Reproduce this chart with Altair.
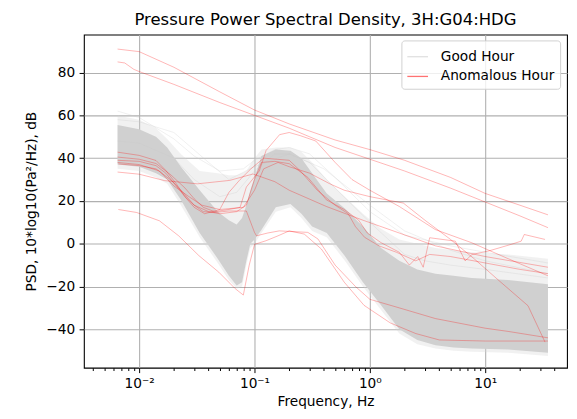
import altair as alt
import pandas as pd

TITLE = "Pressure Power Spectral Density, 3H:G04:HDG"
X_TITLE = "Frequency, Hz"
Y_TITLE = "PSD, 10*log10(Pa²/Hz), dB"
LEGEND_LABELS = ["Good Hour", "Anomalous Hour"]
Y_TICKS = [-40, -20, 0, 20, 40, 60, 80]
X_TICKS = [m * d for d in [0.001, 0.01, 0.1, 1, 10] for m in range(1, 10)]
X_TICKS = [v for v in X_TICKS if 0.0035 < v < 50]

# envelope of the many "good hour" curves
band_freq = [0.0065, 0.01, 0.014, 0.0175, 0.023, 0.0335, 0.048, 0.06, 0.07, 0.078, 0.085, 0.092, 0.1,
             0.115, 0.153, 0.205, 0.255, 0.316, 0.423, 0.607, 0.871, 1.25, 1.8, 2.58, 3.71, 5.32, 7.65, 15.8, 35]
core_hi = [55.5, 53.5, 50, 45, 36, 25, 15, 11, 9, 12, 18, 25, 31,
           41, 44, 43.5, 40, 33, 23.5, 16.5, 8, -2, -8, -12, -14, -15, -16, -17, -19]
core_lo = [37, 36, 33, 30, 20.5, 5, -7, -15, -19.5, -18, -8, 0, 2,
           6.5, 17, 18.6, 14, 8, 5, -5.7, -18, -28.8, -40, -45, -47.5, -48.5, -49, -49.5, -51]
spread_hi = [60, 58, 54, 49, 42, 34, 33, 32, 32, 33, 34, 37, 40,
             44, 45, 45, 43, 38, 30, 22, 14, 7, 2, 0, -2, -3, -4, -5, -7]
spread_lo = [35, 34, 31, 28, 18, 3, -9, -17, -21, -20, -10, -2, 0,
             5, 15, 17, 12, 6, 3, -8, -20, -31, -42, -47, -49, -50, -50.5, -51, -52.5]

# a few individual good-hour curves
g1_freq = [0.0065, 0.01, 0.02, 0.03, 0.05, 0.08, 0.1, 0.15, 0.2, 0.3, 0.5, 1, 2, 5, 10, 35]
g1_psd = [62, 59, 49, 41, 34, 35, 39, 44, 45, 42, 31, 15, 4, -1, -4, -9]
g2_freq = [0.0065, 0.01, 0.02, 0.03, 0.05, 0.07, 0.1, 0.15, 0.2, 0.3, 0.5, 1, 2, 3, 5, 10, 35]
g2_psd = [48, 47, 40, 30, 22, 24, 34, 42, 42, 38, 26, 10, -5, -8, -10, -12, -16]
g3_freq = [0.0065, 0.01, 0.02, 0.04, 0.06, 0.1, 0.2, 0.4, 1, 2, 5, 10, 35]
g3_psd = [58, 57, 52, 38, 30, 36, 42, 35, 18, 6, -3, -8, -14]

# anomalous-hour curves
a1_freq = [0.0065, 0.01, 0.02, 0.05, 0.1, 0.2, 0.5, 1, 2, 5, 10, 20, 35]
a1_psd = [91, 89.8, 82.5, 71, 62.5, 56, 48.5, 44, 39, 31, 23.5, 18, 13.5]
a2_freq = [0.0065, 0.0075, 0.009, 0.01, 0.02, 0.05, 0.1, 0.2, 0.3, 0.5, 1, 2, 5, 10, 20, 35]
a2_psd = [85, 84.5, 81.5, 80.5, 74.5, 66, 60, 54, 50, 45, 39.5, 34, 26, 19.5, 13, 7.5]
a3_freq = [0.0066, 0.0095, 0.015, 0.022, 0.033, 0.049, 0.068, 0.08, 0.09, 0.1, 0.126, 0.16, 0.2, 0.27,
           0.38, 0.6, 0.89, 1.5, 2.5, 4, 10, 35]
a3_psd = [16, 14.6, 10.7, 3.7, -5.6, -13.3, -21, -24, -10, -0.3, 1.4, 3.7, 6, 4.5,
          -2.5, -18, -28.8, -37, -42, -45, -45.5, -45.5]
a4_freq = [0.0065, 0.01, 0.014, 0.017, 0.021, 0.025, 0.03, 0.036, 0.045, 0.06, 0.075, 0.085, 0.1, 0.104,
           0.13, 0.164, 0.29, 0.355, 0.5, 0.75, 1, 1.8, 3.7, 10, 15.8, 35]
a4_psd = [42.8, 41.3, 38.9, 34.3, 28, 22, 18, 15, 14.6, 15.3, 15.3, 15.3, 5.3, 3.7,
          5, 6, 5.3, 2.2, -10, -20, -26, -30, -35, -39.5, -41, -44]
a5_freq = [0.0065, 0.01, 0.014, 0.019, 0.025, 0.03, 0.036, 0.045, 0.06, 0.075, 0.085, 0.11, 0.126, 0.165,
           0.2, 0.25, 0.34, 0.5, 0.7, 1, 1.8, 3.7, 7.6, 15.8, 35]
a5_psd = [40.5, 39.5, 37.5, 32, 26, 21, 17, 15, 16, 17, 26.5, 34, 43.6, 51,
          52, 50.5, 48, 38, 30, 25, 17.4, 6.6, 0.5, -7, -15]
a6_freq = [0.0066, 0.01, 0.014, 0.019, 0.024, 0.03, 0.04, 0.05, 0.07, 0.085, 0.1, 0.115, 0.15, 0.2, 0.29,
           0.42, 0.6, 0.8, 0.95, 1.25, 1.8, 2.2, 2.6, 2.9, 3.3, 5.5, 6.7, 7.7, 10.7, 16.8, 20.5, 21.8, 33]
a6_psd = [37.3, 36.5, 35, 29.6, 24, 18, 15, 14, 15, 18, 30, 38, 38.5, 37.4, 31,
          20.5, 16, 11, 5, 0.5, -4, -10, -6, -11, 2.8, 1.2, -8, -5, -3.4, -0.3, 1.2, 4.3, 2]
a7_freq = [0.0065, 0.01, 0.0166, 0.032, 0.061, 0.097, 0.15, 0.2, 0.42, 0.87, 1.8, 3.7, 10, 35]
a7_psd = [33.5, 32.5, 29.5, 28, 29.6, 32.6, 29, 25, 17.4, 11, 5, -1, -6, -11]
a8_freq = [0.0065, 0.01, 0.014, 0.017, 0.021, 0.025, 0.03, 0.037, 0.05, 0.06, 0.075, 0.093, 0.12, 0.2,
           0.25, 0.35, 0.5, 0.65, 0.75, 0.9, 1.2, 1.7, 2.5, 3.3, 5, 10, 20, 35]
a8_psd = [39, 38.5, 36.5, 33, 27, 21.9, 17, 14, 16, 24, 30, 35, 40, 39,
          34, 25, 18, 14, 8, 3, -1, -4, -8, -5, -6, -9, -12, -14]
a9_freq = [0.0065, 0.01, 0.015, 0.02, 0.027, 0.035, 0.05, 0.08, 0.1, 0.12, 0.16, 0.2, 0.3, 0.45, 0.6,
           1, 1.95, 3, 5, 8, 13, 23.5, 33]
a9_psd = [38, 37, 34, 27, 22, 18, 16, 17, 25, 35, 38, 36, 33, 28, 25,
          22, 19, 11, 2, -7, -17, -29, -46]

good = {"g1": (g1_freq, g1_psd), "g2": (g2_freq, g2_psd), "g3": (g3_freq, g3_psd)}
anom = {"a1": (a1_freq, a1_psd), "a2": (a2_freq, a2_psd), "a3": (a3_freq, a3_psd),
        "a4": (a4_freq, a4_psd), "a5": (a5_freq, a5_psd), "a6": (a6_freq, a6_psd),
        "a7": (a7_freq, a7_psd), "a8": (a8_freq, a8_psd), "a9": (a9_freq, a9_psd)}


def to_df(curves, kind):
    rows = []
    for name, (fs, ps) in curves.items():
        for f, p in zip(fs, ps):
            rows.append({"freq": f, "psd": p, "series": name, "kind": kind})
    return pd.DataFrame(rows)


df_band = pd.DataFrame({"freq": band_freq, "core_hi": core_hi, "core_lo": core_lo,
                        "spread_hi": spread_hi, "spread_lo": spread_lo})
df_good = to_df(good, LEGEND_LABELS[0])
df_anom = to_df(anom, LEGEND_LABELS[1])

FONT = "DejaVu Sans"
FS = 13.9
DEC = "abs(log(datum.value)/LN10 - round(log(datum.value)/LN10)) < 0.001"
E = "round(log(datum.value)/LN10)"
LABEL_EXPR = (f"!({DEC}) ? '' : {E} == -2 ? '10⁻²' : {E} == -1 ? '10⁻¹' : "
              f"{E} == 0 ? '10⁰' : {E} == 1 ? '10¹' : ''")

x_scale = alt.Scale(type="log", domain=[0.00332, 51.2], nice=False)
y_scale = alt.Scale(domain=[-58, 97.8], nice=False, zero=False)

x_axis = alt.Axis(values=X_TICKS, labelExpr=LABEL_EXPR, title=X_TITLE, grid=True,
                  gridColor="#b0b0b0", gridWidth=1.1,
                  gridOpacity={"condition": {"test": DEC, "value": 1}, "value": 0},
                  tickSize={"condition": {"test": DEC, "value": 4.9}, "value": 2.8},
                  tickColor="black", tickWidth=1, domain=False,
                  labelFont=FONT, labelFontSize=FS, labelColor="black", labelPadding=4.5,
                  labelOverlap=False, labelFlush=False,
                  titleFont=FONT, titleFontSize=FS, titleFontWeight="normal", titleColor="black",
                  titlePadding=4)
y_axis = alt.Axis(values=Y_TICKS, title=Y_TITLE, grid=True, gridColor="#b0b0b0", gridWidth=1.1,
                  tickSize=4.9, tickColor="black", tickWidth=1, domain=False,
                  labelFont=FONT, labelFontSize=FS, labelColor="black", labelPadding=4.5,
                  titleFont=FONT, titleFontSize=FS, titleFontWeight="normal", titleColor="black",
                  titlePadding=7)

x_enc = alt.X("freq:Q", scale=x_scale, axis=x_axis)

color_enc = alt.Color("kind:N", scale=alt.Scale(domain=LEGEND_LABELS, range=["#c8c8c8", "#ff0000"]),
                      legend=alt.Legend(title=None, orient="none", legendX=322, legendY=6,
                                        symbolType="stroke", symbolSize=440, symbolStrokeWidth=1.3,
                                        symbolOpacity=0.55,
                                        labelFont=FONT, labelFontSize=FS, labelColor="black",
                                        labelOffset=12, rowPadding=1, padding=5,
                                        fillColor="rgba(255,255,255,0.8)", strokeColor="#d0d0d0",
                                        cornerRadius=3))

spread = alt.Chart(df_band).mark_area(color="#d3d3d3", opacity=0.32).encode(
    x=x_enc, y=alt.Y("spread_lo:Q", scale=y_scale, axis=y_axis), y2="spread_hi:Q")
core = alt.Chart(df_band).mark_area(color="#d0d0d0", opacity=1).encode(
    x=x_enc, y=alt.Y("core_lo:Q", scale=y_scale, axis=y_axis), y2="core_hi:Q")
good_lines = alt.Chart(df_good).mark_line(strokeWidth=0.8, opacity=0.35).encode(
    x=x_enc, y=alt.Y("psd:Q", scale=y_scale, axis=y_axis), detail="series:N", color=color_enc)
anom_lines = alt.Chart(df_anom).mark_line(strokeWidth=0.9, opacity=0.32).encode(
    x=x_enc, y=alt.Y("psd:Q", scale=y_scale, axis=y_axis), detail="series:N", color=color_enc)

chart = alt.layer(spread, core, good_lines, anom_lines).properties(
    width=490, height=338,
    autosize=alt.AutoSizeParams(type="none"),
    padding={"left": 77, "top": 24, "right": 2, "bottom": 45},
    title=alt.TitleParams(TITLE, font=FONT, fontSize=16.7, fontWeight="normal", color="black",
                          anchor="middle", offset=6),
).configure_view(stroke="black", strokeWidth=1.1)

chart.save("out.html", embed_options={"renderer": "svg", "actions": False})
